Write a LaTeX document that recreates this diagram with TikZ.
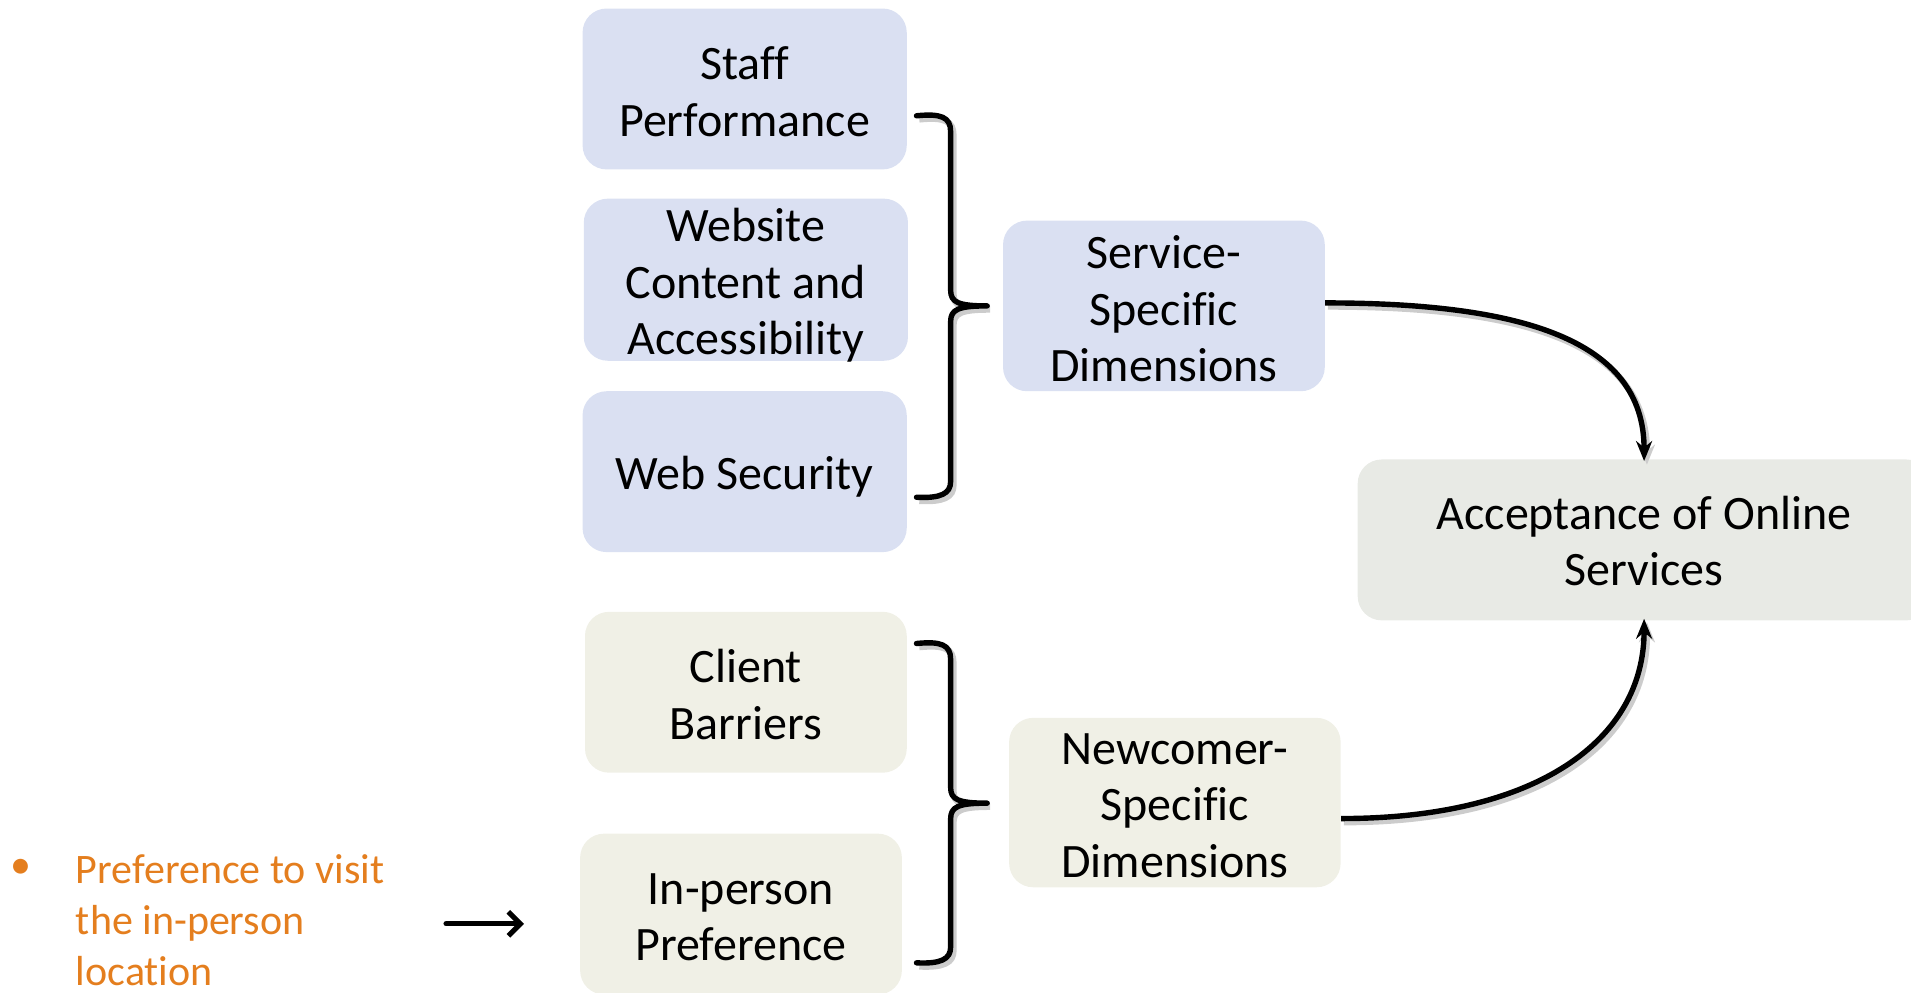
\documentclass[tikz,border=0pt]{standalone}
\usepackage{fontspec}
\setmainfont{Carlito}[Ligatures=NoCommon]
\usetikzlibrary{arrows.meta}
\definecolor{boxblue}{RGB}{218,224,242}
\definecolor{boxbeige}{RGB}{240,240,230}
\definecolor{boxgray}{RGB}{232,234,229}
\definecolor{bulletorange}{RGB}{228,126,30}
\tikzset{
  box/.style={rounded corners=12pt, inner sep=0pt},
  bluebox/.style={box, fill=boxblue},
  beigebox/.style={box, fill=boxbeige},
  graybox/.style={box, fill=boxgray},
  txt/.style={inner sep=0pt, align=center, font=\fontsize{24}{28.3}\selectfont},
  shade/.style={preaction={draw=black!20, line width=3.2pt, transform canvas={xshift=1.4pt, yshift=-1.8pt}}},
  bracket/.style={line width=2.7pt, line cap=round, line join=round, shade},
  conn/.style={line width=2.7pt, -{Stealth[length=10pt,width=8pt]}, shade},
  note/.style={text=bulletorange, font=\fontsize{21}{25.6}\selectfont, align=left, inner sep=0pt},
}
\begin{document}
\begin{tikzpicture}[x=0.609375pt, y=-0.609375pt]
\useasboundingbox (0,0) rectangle (1568,814);
\clip (0,0) rectangle (1568,814);

% boxes
\node[bluebox, minimum width=266*0.609375pt, minimum height=132*0.609375pt] (staff) at (611,73) {};
\node[bluebox, minimum width=266*0.609375pt, minimum height=133*0.609375pt] (web) at (612,229.5) {};
\node[bluebox, minimum width=266*0.609375pt, minimum height=132*0.609375pt] (sec) at (611,387) {};
\node[bluebox, minimum width=264*0.609375pt, minimum height=140*0.609375pt] (serv) at (955,251) {};
\node[graybox, minimum width=470*0.609375pt, minimum height=132*0.609375pt] (acc) at (1349,443) {};
\node[beigebox, minimum width=264*0.609375pt, minimum height=132*0.609375pt] (client) at (612,568) {};
\node[beigebox, minimum width=264*0.609375pt, minimum height=132*0.609375pt] (inperson) at (608,750) {};
\node[beigebox, minimum width=272*0.609375pt, minimum height=139*0.609375pt] (newc) at (964,658.5) {};

% box texts
\node[txt] (staff-t) at ([yshift=-1.5pt]staff.center) {Staff\\Performance};
\node[txt] (web-t) at ([yshift=-2.8pt]web.center) {Website\\Content and\\Accessibility};
\node[txt] (sec-t) at ([yshift=-2.5pt]sec.center) {Web Security};
\node[txt] (serv-t) at ([yshift=-1.5pt]serv.center) {Service-\\Specific\\Dimensions};
\node[txt] (acc-t) at ([yshift=-0.5pt]acc.center) {Acceptance of Online\\Services};
\node[txt] (client-t) at ([yshift=-1.2pt]client.center) {Client\\Barriers};
\node[txt] (inperson-t) at ([yshift=-1.5pt]inperson.center) {In-person\\Preference};
\node[txt] (newc-t) at ([yshift=-1.5pt]newc.center) {Newcomer-\\Specific\\Dimensions};

% braces
\draw[bracket] (752,95) .. controls (772,93) and (780,96) .. (780,108) -- (780,238)
  .. controls (780,248) and (786,251) .. (810,251)
  .. controls (786,251) and (780,254) .. (780,264) -- (780,395)
  .. controls (780,405) and (772,409) .. (752,408);
\draw[bracket] (752,528) .. controls (772,526) and (780,529) .. (780,541) -- (780,646)
  .. controls (780,656) and (786,659) .. (810,659)
  .. controls (786,659) and (780,662) .. (780,672) -- (780,777)
  .. controls (780,787) and (772,791) .. (752,790);

% curved arrows
\draw[conn] ([yshift=1.5pt]serv.east) .. controls +(160,0) and +(0,-100) .. ([yshift=-1pt]acc.north);
\draw[conn] ([yshift=-8pt]newc.east) .. controls +(160,0) and +(0,100) .. ([yshift=1pt]acc.south);

% note
\node[text=bulletorange, font=\fontsize{21}{25.6}\selectfont, inner sep=0pt] (bul) at (17,713) {•};
\node[note, anchor=west] (pref) at (62,755) {Preference to visit\\the in-person\\location};
\coordinate (a1) at (366,758);
\coordinate (a2) at (430,758);
\draw[line width=2.6pt, line cap=round, -{Straight Barb[length=6pt,width=12pt,line width=2.6pt]}] (a1) -- (a2);
\end{tikzpicture}
\end{document}
